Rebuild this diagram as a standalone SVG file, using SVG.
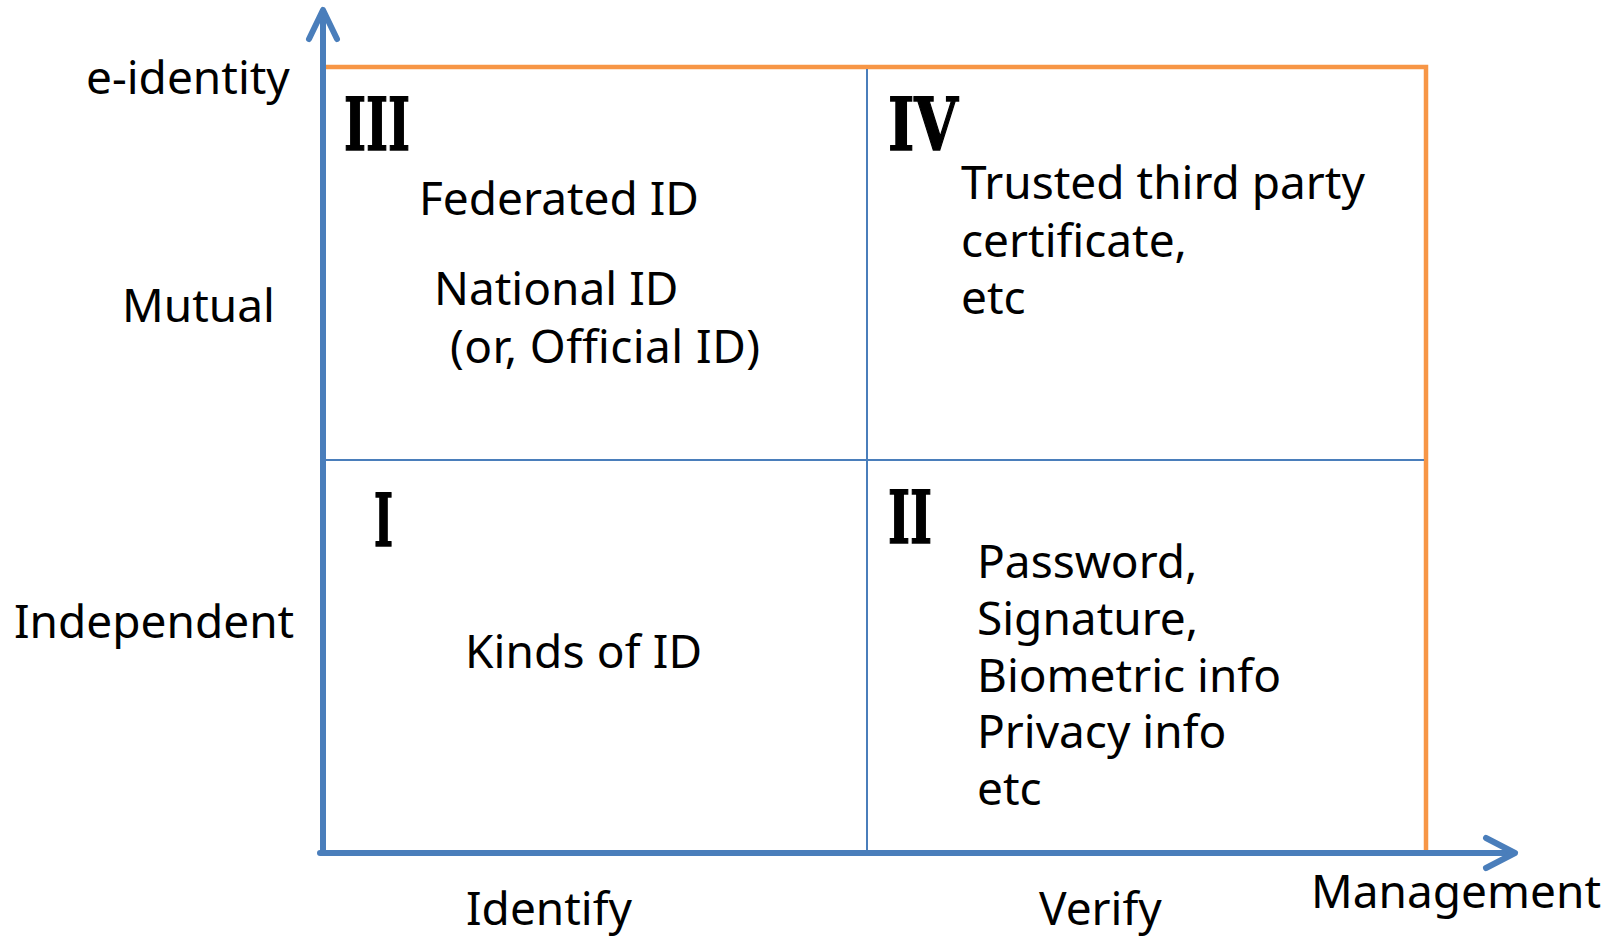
<svg xmlns="http://www.w3.org/2000/svg" width="1615" height="937" viewBox="0 0 1615 937">
<style>
.t{font-family:"Noto Sans","Open Sans","Liberation Sans",sans-serif;font-size:46px;fill:#000}
.n{font-family:"DejaVu Serif","Liberation Serif",serif;font-weight:bold;font-size:73px;fill:#000;stroke:#000;stroke-width:1.5}
.axis{stroke:#4A7EBB;stroke-width:6;fill:none;stroke-linecap:round;stroke-linejoin:round}
.thin{stroke:#4A7EBB;stroke-width:2;fill:none}
.frame{stroke:#F79646;stroke-width:4.5;fill:none}
</style>
<rect width="1615" height="937" fill="#fff"/>
<g id="connectors">
<polyline class="frame" points="326,67 1426,67 1426,851"/>
<line class="thin" x1="326" y1="460" x2="1424" y2="460"/>
<line class="thin" x1="867" y1="69" x2="867" y2="851"/>
<line class="axis" x1="323" y1="853" x2="323" y2="12"/>
<polyline class="axis" points="309,39 323,10 337,39"/>
<line class="axis" x1="320" y1="853" x2="1513" y2="853"/>
<polyline class="axis" points="1486,838 1515,853 1486,868"/>
</g>
<g id="axis-labels">
<text class="t" x="86" y="94">e-identity</text>
<text class="t" x="122" y="322">Mutual</text>
<text class="t" x="14" y="638">Independent</text>
<text class="t" x="466" y="925">Identify</text>
<text class="t" x="1039" y="925">Verify</text>
<text class="t" x="1311" y="908">Management</text>
</g>
<g id="q3">
<text class="n" x="344" y="150" textLength="66" lengthAdjust="spacingAndGlyphs">III</text>
<text class="t" x="419" y="215">Federated ID</text>
<text class="t" x="434" y="305">National ID</text>
<text class="t" x="450" y="363" textLength="310">(or, Official ID)</text>
</g>
<g id="q4">
<text class="n" x="888" y="150" textLength="70" lengthAdjust="spacingAndGlyphs">IV</text>
<text class="t" x="961" y="199">Trusted third party</text>
<text class="t" x="961" y="257">certificate,</text>
<text class="t" x="961" y="314">etc</text>
</g>
<g id="q1">
<text class="n" x="374" y="546" textLength="19" lengthAdjust="spacingAndGlyphs">I</text>
<text class="t" x="465" y="668" textLength="237">Kinds of ID</text>
</g>
<g id="q2">
<text class="n" x="888" y="543" textLength="44" lengthAdjust="spacingAndGlyphs">II</text>
<text class="t" x="977" y="578">Password,</text>
<text class="t" x="977" y="635">Signature,</text>
<text class="t" x="977" y="692">Biometric info</text>
<text class="t" x="977" y="748">Privacy info</text>
<text class="t" x="977" y="805">etc</text>
</g>
</svg>
